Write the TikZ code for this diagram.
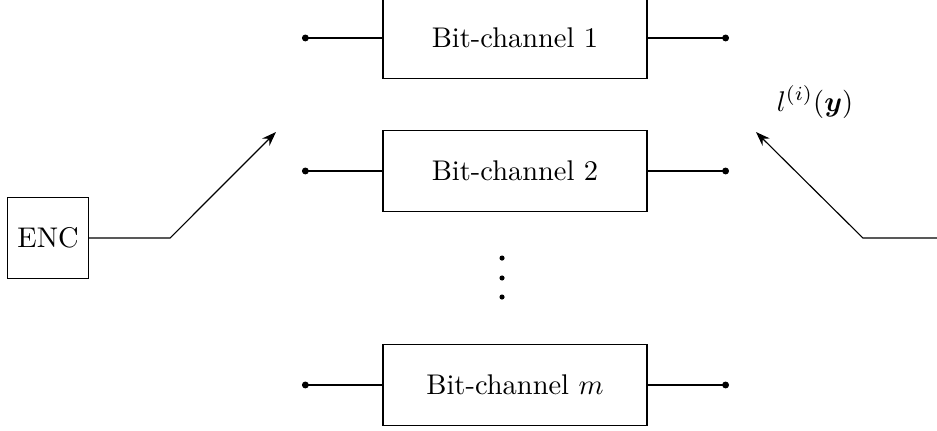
\documentclass[tikz,border=0pt]{standalone}
\usepackage{amsmath}
\usepackage{amssymb}
\usetikzlibrary{arrows.meta}

\begin{document}
\begin{tikzpicture}[
  chanbox/.style={draw, minimum width=3.26cm, minimum height=1cm},
  encbox/.style={draw, minimum size=1cm, inner sep=1pt},
  dotend/.style={{Circle[length=2.4pt]}-},
  swarrow/.style={-{Stealth[length=5pt,width=3.6pt]}}
]
\useasboundingbox (0,0) rectangle (11.568,5.309);
\def\cx{6.358}   % channel box centre x
\def\xi{3.728}   % input dot x
\def\xo{9.0}     % output dot x
\def\ys{2.37}    % switch line y
%% Bit-channels
\node[chanbox] (ch1) at (\cx,4.84) {Bit-channel 1};
\node[chanbox] (ch2) at (\cx,3.198) {Bit-channel 2};
\node[chanbox] (chm) at (\cx,0.556) {Bit-channel $m$};
\foreach \n/\y in {1/4.84, 2/3.198, m/0.556} {
  \coordinate (in\n) at (\xi,\y);
  \coordinate (out\n) at (\xo,\y);
  \draw[dotend] (in\n) -- (ch\n);
  \draw[dotend] (out\n) -- (ch\n);
}
%% vertical dots
\foreach \y in {2.123, 1.877, 1.642}
  \fill (6.198,\y) circle (0.9pt);
%% Encoder and input switch
\node[encbox] (enc) at (0.593,\ys) {ENC};
\coordinate (swl) at (2.099,\ys);
\coordinate (swltip) at (3.407,3.679);
\draw[swarrow] (enc) -- (swl) -- (swltip);
%% Output switch
\coordinate (outr) at (11.568,\ys);
\coordinate (swr) at (10.654,\ys);
\coordinate (swrtip) at (9.333,3.679);
\draw[swarrow] (outr) -- (swr) -- (swrtip);
\node (llr) at (10.062,4.049) {$l^{(i)}(\boldsymbol{y})$};
\end{tikzpicture}
\end{document}
